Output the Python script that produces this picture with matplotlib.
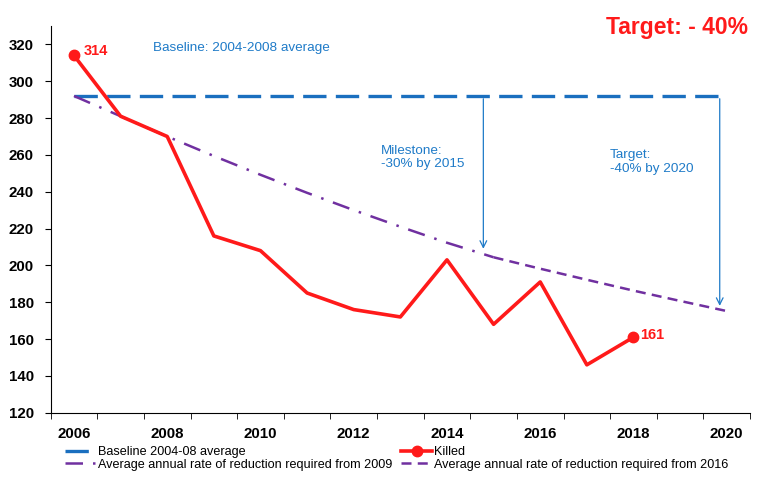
import matplotlib
matplotlib.use('Agg')
import matplotlib.pyplot as plt
import numpy as np

plt.rcParams['font.family'] = ['Liberation Sans', 'DejaVu Sans']

# ── data ──
years = list(range(2006, 2021))
killed = [314, 281, 270, 216, 208, 185, 176, 172, 203, 168, 191, 146, 161]
baseline = [292] * 15
req_2009 = [292, 281, 270, 259.4, 249.2, 239.4, 230.0, 221.0, 212.3, 204.4]
req_2016 = [204.4, 198.2, 192.2, 186.3, 180.7, 175.2]
tick_years = [2006, 2008, 2010, 2012, 2014, 2016, 2018, 2020]

RED = '#ff1a1a'
BLUE = '#1a6fbf'
TXT_BLUE = '#1f7bc8'
PURPLE = '#7030a0'

fig = plt.figure(figsize=(7.77, 4.84), dpi=100)
ax = fig.add_axes([0.0652, 0.1473, 0.9001, 0.799])

x = np.arange(len(years))
ax.plot(x, baseline, color=BLUE, lw=2.4, dashes=(7, 2.8), label='Baseline 2004-08 average', zorder=3)
ax.plot(x[:len(killed)], killed, color=RED, lw=2.6, label='Killed', zorder=5,
        marker='o', markersize=7.5, markevery=[0, len(killed) - 1])
ax.plot(x[:len(req_2009)], req_2009, color=PURPLE, lw=1.8, dashes=(7, 4, 1, 4),
        label='Average annual rate of reduction required from 2009', zorder=4)
ax.plot(x[9:9 + len(req_2016)], req_2016, color=PURPLE, lw=1.8, dashes=(4, 2.5),
        label='Average annual rate of reduction required from 2016', zorder=4)

# point labels
ax.text(0.2, killed[0] + 2.5, str(killed[0]), color=RED, fontsize=10.5, fontweight='bold', va='center')
ax.text(len(killed) - 1 + 0.14, killed[-1] + 1, str(killed[-1]), color=RED, fontsize=10.5,
        fontweight='bold', va='center')

# arrows
arrow = dict(arrowstyle='->', color=TXT_BLUE, lw=0.9, mutation_scale=12)
ax.annotate('', xy=(8.78, 207.5), xytext=(8.78, 292), arrowprops=arrow)
ax.annotate('', xy=(13.85, 176.5), xytext=(13.85, 292), arrowprops=arrow)

ax.text(1.7, 318, 'Baseline: 2004-2008 average', color=TXT_BLUE, fontsize=9.7, va='center')
ax.text(6.58, 265.5, 'Milestone:\n-30% by 2015', color=TXT_BLUE, fontsize=9.7, va='top', linespacing=1.15)
ax.text(11.5, 263, 'Target:\n-40% by 2020', color=TXT_BLUE, fontsize=9.7, va='top', linespacing=1.15)
fig.text(0.963, 0.93, 'Target: - 40%', color=RED, fontsize=16.5, fontweight='bold', ha='right')

# axes styling
ax.set_xlim(-0.5, len(years) - 0.5)
ax.set_ylim(120, 330)
ax.set_yticks(range(120, 321, 20))
ax.set_xticks([years.index(y) for y in tick_years])
ax.set_xticklabels([str(y) for y in tick_years])
ax.set_xticks(np.arange(-0.5, len(years)), minor=True)
ax.tick_params(axis='x', which='major', length=0, pad=10)
ax.tick_params(axis='x', which='minor', length=4, direction='out')
ax.tick_params(axis='y', length=4, direction='out', pad=8)
for lab in ax.get_xticklabels() + ax.get_yticklabels():
    lab.set_fontweight('bold')
    lab.set_fontsize(10.8)
ax.spines['top'].set_visible(False)
ax.spines['right'].set_visible(False)

h, l = ax.get_legend_handles_labels()
order = [0, 2, 1, 3]
fig.legend([h[i] for i in order], [l[i] for i in order], ncol=2, loc='upper left',
           bbox_to_anchor=(0.084, 0.078), frameon=False, fontsize=9.1,
           handlelength=2.4, handletextpad=0.2, columnspacing=0.7, labelspacing=0.05,
           borderaxespad=0, borderpad=0)

fig.savefig('out.png', dpi=100)
